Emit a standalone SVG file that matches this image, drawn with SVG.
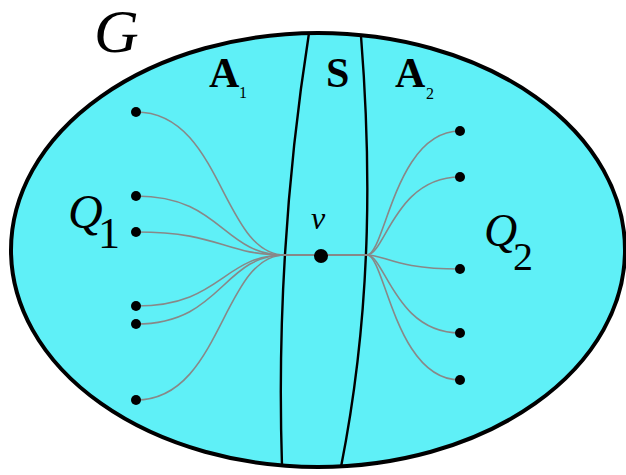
<svg xmlns="http://www.w3.org/2000/svg" width="626" height="475" viewBox="0 0 626 475">
<style>
.serif{font-family:"Liberation Serif","Times New Roman",serif;fill:#000}
.it{font-style:italic}
.bd{font-weight:bold}
.edge{fill:none;stroke:#888;stroke-width:1.6}
.sep{fill:none;stroke:#000;stroke-width:2.4}
.dot{fill:#000}
</style>
<rect width="626" height="475" fill="#fff"/>
<g id="graph-G">
<ellipse cx="318" cy="250" rx="307" ry="217" fill="#5ff0f7" stroke="#000" stroke-width="4"/>
<text class="serif it" x="94" y="52" font-size="62">G</text>
</g>
<g id="separators">
<path class="sep" d="M309,33 Q275,250 282,466"/>
<path class="sep" d="M361,36 C370,150 374,300 341,467"/>
</g>
<g id="labels">
<text class="serif bd" x="209" y="87" font-size="42">A</text>
<text class="serif" x="239" y="98" font-size="16">1</text>
<text class="serif bd" x="326" y="87" font-size="42">S</text>
<text class="serif bd" x="395" y="87" font-size="42">A</text>
<text class="serif" x="426" y="99" font-size="16">2</text>
</g>
<g id="connectors">
<path class="edge" d="M136,112 C222,112 222,255 285,255 L320,255"/>
<path class="edge" d="M136,196 C222,196 222,255 285,255 L320,255"/>
<path class="edge" d="M136,232 C222,232 222,255 285,255 L320,255"/>
<path class="edge" d="M136,306 C222,306 222,255 285,255 L320,255"/>
<path class="edge" d="M136,324 C222,324 222,255 285,255 L320,255"/>
<path class="edge" d="M136,400 C222,400 222,255 285,255 L320,255"/>
<path class="edge" d="M460,131 C395,131 385,255 367,255 L320,255"/>
<path class="edge" d="M460,177 C395,177 385,255 367,255 L320,255"/>
<path class="edge" d="M460,269 C395,269 385,255 367,255 L320,255"/>
<path class="edge" d="M460,333 C395,333 385,255 367,255 L320,255"/>
<path class="edge" d="M460,380 C395,380 385,255 367,255 L320,255"/>
</g>
<g id="Q1">
<circle class="dot" cx="136" cy="112" r="5"/>
<circle class="dot" cx="136" cy="196" r="5"/>
<circle class="dot" cx="136" cy="232" r="5"/>
<circle class="dot" cx="136" cy="306" r="5"/>
<circle class="dot" cx="136" cy="324" r="5"/>
<circle class="dot" cx="136" cy="400" r="5"/>
<text class="serif it" x="68" y="228" font-size="48">Q</text>
<text class="serif" x="98" y="248" font-size="44">1</text>
</g>
<g id="Q2">
<circle class="dot" cx="460" cy="131" r="5"/>
<circle class="dot" cx="460" cy="177" r="5"/>
<circle class="dot" cx="460" cy="269" r="5"/>
<circle class="dot" cx="460" cy="333" r="5"/>
<circle class="dot" cx="460" cy="380" r="5"/>
<text class="serif it" x="484" y="246" font-size="46">Q</text>
<text class="serif" x="513" y="270" font-size="40">2</text>
</g>
<g id="v">
<circle class="dot" cx="321" cy="256" r="7"/>
<text class="serif it" x="311" y="229" font-size="32">v</text>
</g>
</svg>
